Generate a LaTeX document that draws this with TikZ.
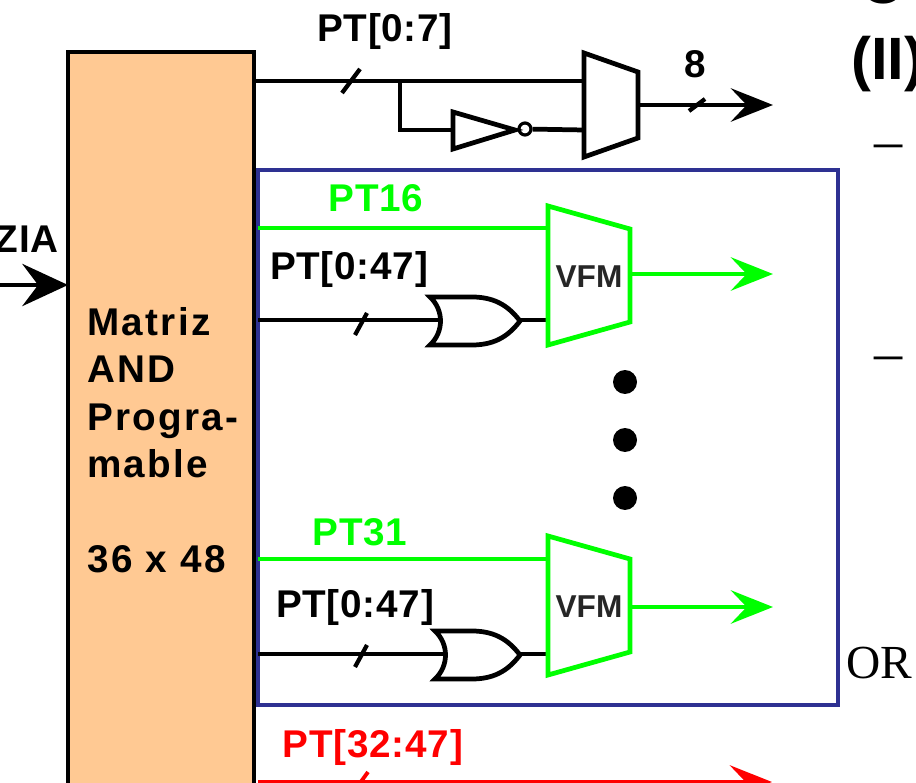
\documentclass[tikz,border=0pt]{standalone}
\usepackage{fontspec}
\usepackage{tikz}
\usetikzlibrary{arrows.meta,calc,positioning}
\setmainfont{Liberation Sans}
\newfontfamily\slidefont{Liberation Serif}
\newfontfamily\blockfont[LetterSpace=6]{Liberation Sans}
\newfontfamily\sigfont[LetterSpace=2]{Liberation Sans}
\definecolor{Peach}{HTML}{FFC993}
\definecolor{Navy}{HTML}{2E3192}
\definecolor{SigGreen}{HTML}{00FF00}
\definecolor{SigRed}{HTML}{FF0000}
\tikzset{
  sigline/.style={line width=2.7pt},
  sigarrow/.style={sigline,-{Stealth[length=24pt,width=19pt,inset=9pt]}},
  blocklabel/.style={font=\blockfont\fontsize{22}{27}\selectfont\bfseries},
  siglabel/.style={font=\sigfont\fontsize{22}{27}\selectfont\bfseries},
  slidelabel/.style={font=\fontsize{34}{34}\selectfont\bfseries},
  dashlabel/.style={font=\slidefont\fontsize{32}{32}\selectfont},
  busdot/.style={circle,fill=black,inner sep=0pt,minimum size=.48cm}
}
\begin{document}
\begin{tikzpicture}[x=.02cm,y=-.02cm]
        \path[use as bounding box,clip](0,0)rectangle(916,783);
        \fill[white](0,0)rectangle(916,783);
        % and array
        \node[draw,sigline,fill=Peach,anchor=north west,minimum width=3.72cm,minimum height=17cm,inner sep=0pt,outer sep=0pt](matriz)at(68,52){};
        \node[blocklabel,anchor=north west,align=left,inner sep=0pt](matriztxt)at(87,307){Matriz\\AND\\Progra-\\mable\\[27pt]36 x 48};
        \coordinate(ziain)at(-10,285);
        \draw[sigline,-{Stealth[length=26pt,width=24pt,inset=9pt]}](ziain)--(matriz.west|-ziain);
        \node[siglabel,anchor=base east,inner sep=0pt](zia)at(59,253){ZIA};
        % top mux
        \coordinate(muxa)at(584,81);
        \coordinate(muxb)at(584,130);
        \coordinate(muxout)at(638,105);
        \coordinate(topend)at(773,105);
        \coordinate(split)at(400,81);
        \coordinate(invin)at(453,130);
        \node[draw,circle,line width=1.8pt,inner sep=0pt,minimum size=.24cm](bubble)at(525,129){};
        \draw[sigline](matriz.east|-muxa)--(muxa);
        \draw[sigline](split)|-(invin);
        \draw[sigline,fill=white](453,112)--(515,130)--(453,149)--cycle;
        \draw[sigline](bubble)--(muxb);
        \draw[sigline](584,53)--(638,72)--(638,138)--(584,157)--cycle;
        \draw[sigarrow](muxout)--(topend);
        \node[siglabel,anchor=base,inner sep=0pt](toplabel)at(385,42){PT[0:7]};
        \node[siglabel,anchor=base,inner sep=0pt](widthlabel)at(695,78){8};
        % green macrocell box
        \node[draw=Navy,line width=2.6pt,anchor=north west,minimum width=11.6cm,minimum height=10.7cm,inner sep=0pt,outer sep=0pt](cellbox)at(258,170){};
        \foreach \rowname/\dy/\ox in {p/0/0,q/330/5}{
          \coordinate(vfmin\rowname)at(548,228+\dy+\ox/5);
          \coordinate(vfmlo\rowname)at(548,320+\dy+\ox*4/5);
          \coordinate(vfmout\rowname)at(630,274+\dy+\ox*3/5);
          \coordinate(cellend\rowname)at(773,274+\dy+\ox*3/5);
          \coordinate(orin\rowname)at(438+\ox,320+\dy+\ox*4/5);
          \draw[sigline,SigGreen](cellbox.west|-vfmin\rowname)--(vfmin\rowname);
          \draw[sigline](cellbox.west|-orin\rowname)--(orin\rowname);
          \begin{scope}[shift={(0,\ox*4/5)}]
          \draw[sigline,fill=white](430+\ox,297+\dy)--(472,297+\dy)..controls(497,297+\dy)and(510,308+\dy)..(520,321+\dy)..controls(510,334+\dy)and(497,345+\dy)..(472,345+\dy)--(430+\ox,345+\dy)..controls(444+\ox,332+\dy)and(444+\ox,310+\dy)..cycle;
          \end{scope}
          \draw[sigline](520,320+\dy+\ox*4/5)--(vfmlo\rowname);
          \draw[sigline,SigGreen](548,206+\dy)--(630,229+\dy)--(630,322+\dy)--(548,345+\dy)--cycle;
          \draw[sigline,SigGreen,-{Stealth[length=24pt,width=19pt,inset=9pt]}](vfmout\rowname)--(cellend\rowname);
          \node[font=\fontsize{18}{18}\selectfont\bfseries,text=black!85,inner sep=0pt](vfm\rowname)at(589,277+\dy){VFM};
        }
        \node[siglabel,SigGreen,anchor=base,inner sep=0pt](ptsixteen)at(376,212){PT16};
        \node[siglabel,SigGreen,anchor=base,inner sep=0pt](ptthirtyone)at(360,545){PT31};
        \node[siglabel,anchor=base,inner sep=0pt](orlabela)at(349,280){PT[0:47]};
        \node[siglabel,anchor=base,inner sep=0pt](orlabelb)at(355,617){PT[0:47]};
        \node[busdot](dota)at(625,382){};
        \node[busdot](dotb)at(625,440){};
        \node[busdot](dotc)at(625,498){};
        % bus width ticks
        \foreach \sx/\sy/\tx/\ty in {351/81/9/12,361/324/6/11,361/656/6/11,697/105/8/6}
          \draw[line width=2.4pt](\sx-\tx,\sy+\ty)--(\sx+\tx,\sy-\ty);
        % red output, cut by the page edge
        \coordinate(redin)at(258,782);
        \coordinate(redend)at(772,782);
        \draw[sigarrow,SigRed](redin)--(redend);
        \draw[line width=2.2pt,SigRed](352,794)--(368,772);
        \node[siglabel,SigRed,anchor=base,inner sep=0pt](redlabel)at(373,757){PT[32:47]};
        % slide text behind the figure
        \node[slidelabel,anchor=base west,inner sep=0pt](slidetop)at(860,4){C};
        \node[slidelabel,anchor=base west,inner sep=0pt](slidetwo)at(851,80){(II)};
        \node[dashlabel,inner sep=0pt](dasha)at(889,152){–};
        \node[dashlabel,inner sep=0pt](dashb)at(889,364){–};
        \node[anchor=base west,font=\slidefont\fontsize{27}{27}\selectfont,inner sep=0pt](orword)at(846,678){OR};
      \end{tikzpicture}
\end{document}
